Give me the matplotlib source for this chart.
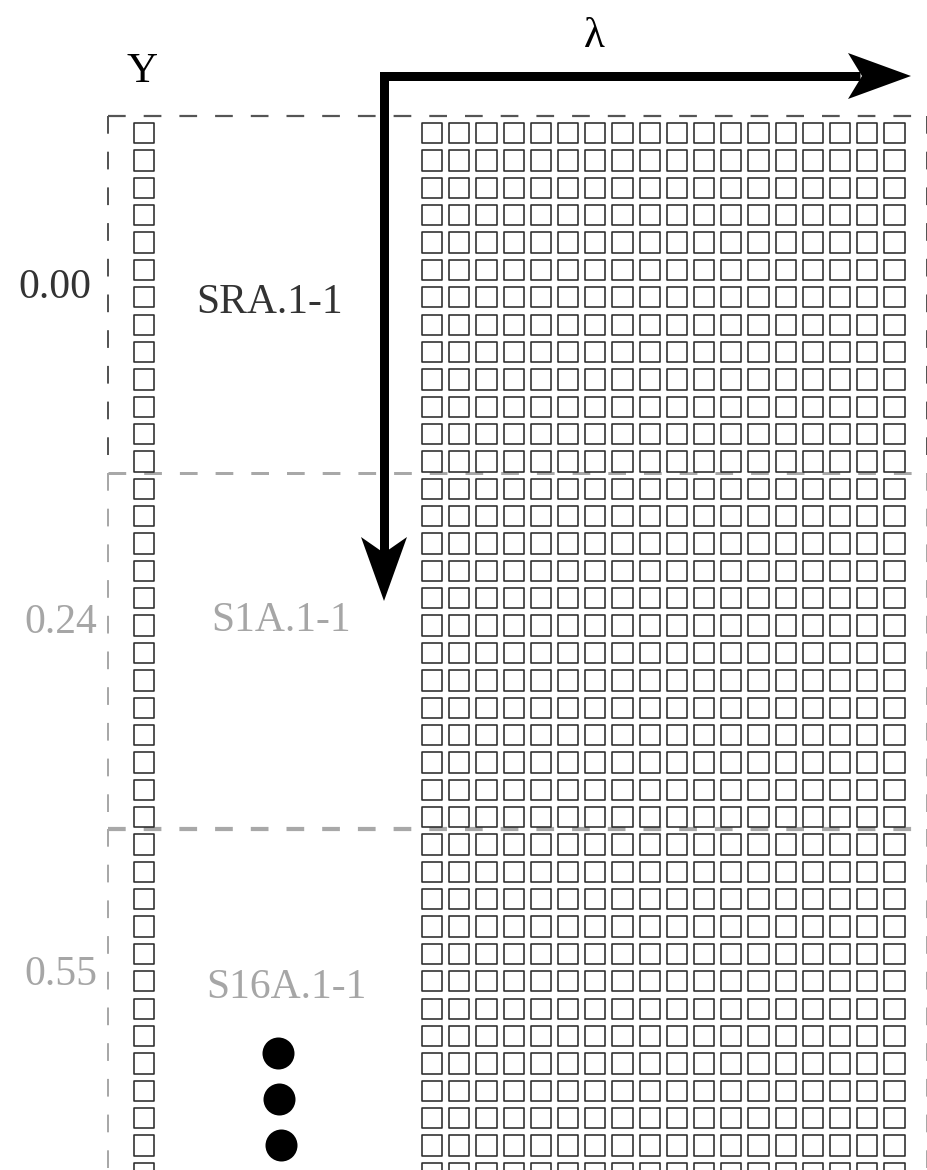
import matplotlib
matplotlib.use("Agg")
import matplotlib.pyplot as plt
from matplotlib.patches import Rectangle, Polygon
from matplotlib.collections import PatchCollection
import numpy as np

# ---- data ----
offsets = ["0.00", "0.24", "0.55"]
samples = ["SRA.1-1", "S1A.1-1", "S16A.1-1"]
label_colors = ["#333333", "#a6a6a6", "#a6a6a6"]
rows_per_group = 13
n_rows = 39
n_cols = 18
x_axis_label = "\u03bb"
y_axis_label = "Y"

plt.rcParams['lines.scale_dashes'] = False
plt.rcParams['font.family'] = ['Liberation Serif', 'DejaVu Serif']

W, H = 928, 1170
fig = plt.figure(figsize=(W / 100, H / 100), dpi=100)
ax = fig.add_axes([0, 0, 1, 1])
ax.set_xlim(0, W)
ax.set_ylim(H, 0)
ax.axis('off')

PX = 72 / 100  # points per pixel

# layout (pixel units)
row_top0, row_pitch, sq = 123.0, 27.36, 20.3
col_left0, col_pitch = 422.0, 27.2
left_col_x = 134.0
box_x0, box_x1 = 108.0, 927.0
group_edges = [116.0, 473.0, 829.0, 1200.0]

# ---- dashed group boxes ----
dash = (0, (17.7 * PX, 18.0 * PX))
box_styles = [("#555555", 2.2, 2.0), ("#a8a8a8", 3.0, 2.0), ("#a8a8a8", 4.2, 2.0)]
for g, (col, lw_top, lw_side) in enumerate(box_styles):
    y0, y1 = group_edges[g], group_edges[g + 1]
    ax.plot([box_x0, box_x1], [y0, y0], color=col, lw=lw_top * PX, linestyle=dash, zorder=1)
    ax.plot([box_x0, box_x0], [y0, y1], color=col, lw=lw_side * PX, linestyle=dash, zorder=1)
    ax.plot([box_x1, box_x1], [y0, y1], color=col, lw=lw_side * PX, linestyle=dash, zorder=1)

# ---- squares ----
rects = []
for r in range(n_rows):
    y = row_top0 + r * row_pitch
    rects.append(Rectangle((left_col_x, y), sq, sq))
    for c in range(n_cols):
        rects.append(Rectangle((col_left0 + c * col_pitch, y), sq, sq))
pc = PatchCollection(rects, facecolor='white', edgecolor='#2b2b2b', linewidths=1.6 * PX, zorder=2)
ax.add_collection(pc)

# ---- labels ----
offset_pos = [(91, 297.5), (97, 633), (97, 985)]
sample_pos = [(270, 313), (281, 631), (286, 998)]
for i in range(3):
    ax.text(*offset_pos[i], offsets[i], ha='right', va='baseline', fontsize=30,
            color=label_colors[i], zorder=5)
    ax.text(*sample_pos[i], samples[i], ha='center', va='baseline', fontsize=30,
            color=label_colors[i], zorder=5)

ax.text(142, 82, y_axis_label, ha='center', va='baseline', fontsize=31, color='black')
ax.text(594, 47, x_axis_label, ha='center', va='baseline', fontsize=31, color='black')

# ---- ellipsis dots ----
dot_x = [278, 279, 281]
dot_y = [1053, 1099, 1145]
ax.scatter(dot_x, dot_y, s=(32 * PX) ** 2, color='black', zorder=5, linewidths=0)

# ---- arrows ----
ax.plot([860, 384, 384], [76, 76, 553], color='black', lw=9 * PX,
        solid_joinstyle='miter', solid_capstyle='butt', zorder=6)
ax.add_patch(Polygon([(911, 76), (848, 53), (862, 76), (848, 99)], closed=True,
                     facecolor='black', edgecolor='none', zorder=6))
ax.add_patch(Polygon([(384, 601), (361, 537), (384, 553), (407, 537)], closed=True,
                     facecolor='black', edgecolor='none', zorder=6))

fig.savefig("out.png", dpi=100, facecolor='white')
